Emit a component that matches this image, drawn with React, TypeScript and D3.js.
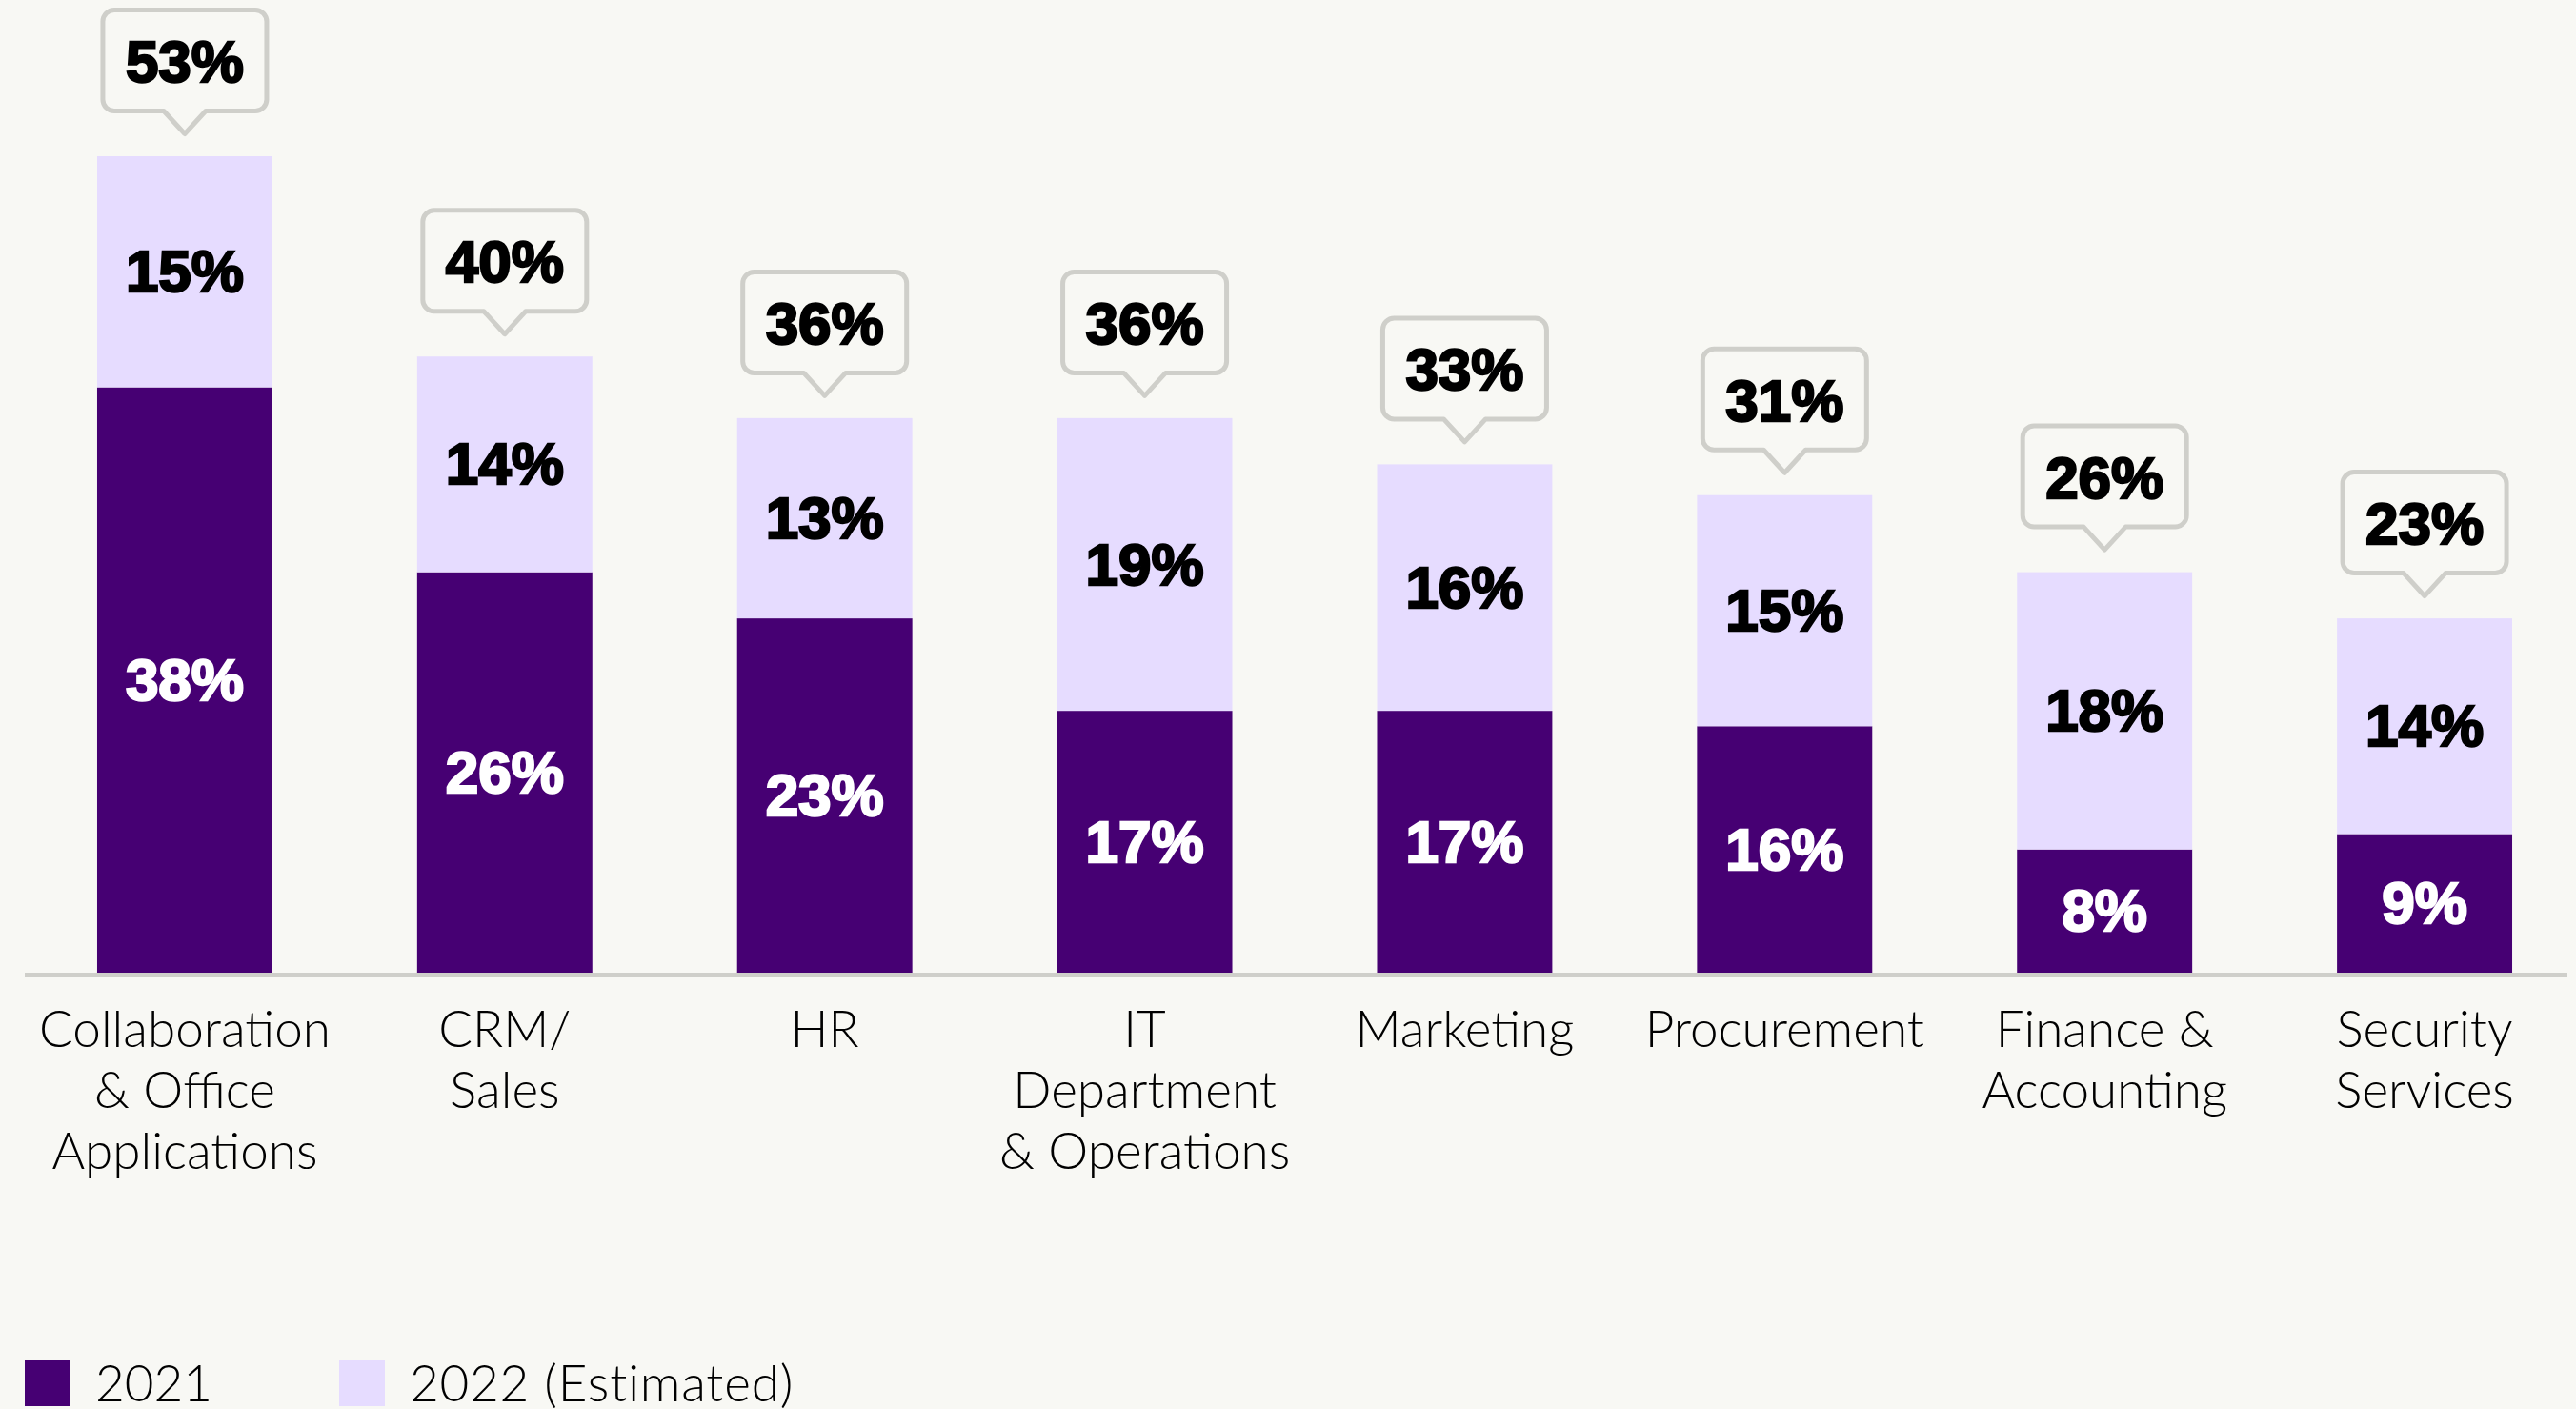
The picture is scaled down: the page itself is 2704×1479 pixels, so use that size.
import React, { useEffect } from "react";
import * as d3 from "d3";

const categories = [
  "Collaboration & Office Applications",
  "CRM/ Sales",
  "HR",
  "IT Department & Operations",
  "Marketing",
  "Procurement",
  "Finance & Accounting",
  "Security Services",
];
const categoryLines = [
  ["Collaboration", "& Office", "Applications"],
  ["CRM/", "Sales"],
  ["HR"],
  ["IT", "Department", "& Operations"],
  ["Marketing"],
  ["Procurement"],
  ["Finance &", "Accounting"],
  ["Security", "Services"],
];
const values2021 = [38, 26, 23, 17, 17, 16, 8, 9];
const values2022Added = [15, 14, 13, 19, 16, 15, 18, 14];
const totals2022 = [53, 40, 36, 36, 33, 31, 26, 23];
const seriesNames = ["2021", "2022 (Estimated)"];

const W = 2704;
const H = 1479;
const BG = "#f8f8f4";
const DARK = "#460073";
const LIGHT = "#e6dcff";
const GRAY = "#cfcfca";
const NUM_FONT = "'Liberation Sans', Arial, sans-serif";
const LABEL_FONT = "Lato, 'Noto Sans', sans-serif";

export default function App() {
  useEffect(() => {
    document.body.style.margin = "0";
    document.body.style.background = BG;
  }, []);

  const x = d3
    .scaleBand<string>()
    .domain(categories)
    .range([26, 2713])
    .paddingInner(0.4524)
    .paddingOuter(0.2262);
  const y = d3.scaleLinear().domain([0, 53]).range([1021, 164]);

  const stackData = categories.map((c, i) => ({
    cat: c,
    a: values2021[i],
    b: values2022Added[i],
  }));
  const stack = d3.stack<any>().keys(["a", "b"])(stackData);
  const colors = [DARK, LIGHT];
  const textColors = ["#ffffff", "#000000"];
  const bw = x.bandwidth();

  const boxW = 172;
  const boxH = 106;
  const r = 12;
  const ptrHalf = 22;
  const ptrH = 24;

  const calloutPath = (cx: number, top: number) => {
    const bb = top - 47.5;
    const bt = bb - boxH;
    const l = cx - boxW / 2;
    const rr = cx + boxW / 2;
    const p = d3.path();
    p.moveTo(l + r, bt);
    p.lineTo(rr - r, bt);
    p.arcTo(rr, bt, rr, bt + r, r);
    p.lineTo(rr, bb - r);
    p.arcTo(rr, bb, rr - r, bb, r);
    p.lineTo(cx + ptrHalf, bb);
    p.lineTo(cx, bb + ptrH);
    p.lineTo(cx - ptrHalf, bb);
    p.lineTo(l + r, bb);
    p.arcTo(l, bb, l, bb - r, r);
    p.lineTo(l, bt + r);
    p.arcTo(l, bt, l + r, bt, r);
    p.closePath();
    return p.toString();
  };

  return (
    <svg
      width={W}
      height={H}
      viewBox={`0 0 ${W} ${H}`}
      style={{ position: "absolute", left: 0, top: 0, display: "block" }}
    >
      <rect x={0} y={0} width={W} height={H} fill={BG} />

      {stack.map((layer, li) => (
        <g key={li}>
          {layer.map((d: any, i: number) => {
            const cat = categories[i];
            const x0 = x(cat)!;
            const yTop = y(d[1]);
            const yBot = y(d[0]);
            const mid = (yTop + yBot) / 2;
            return (
              <g key={cat}>
                <rect x={x0} y={yTop} width={bw} height={yBot - yTop} fill={colors[li]} />
                <text
                  x={x0 + bw / 2}
                  y={mid + 21}
                  textAnchor="middle"
                  fontFamily={NUM_FONT}
                  fontWeight={700}
                  fontSize={62}
                  fill={textColors[li]}
                  stroke={textColors[li]}
                  strokeWidth={2.4}
                  paintOrder="stroke"
                >
                  {`${d[1] - d[0]}%`}
                </text>
              </g>
            );
          })}
        </g>
      ))}

      <line x1={26} x2={2695} y1={1023.5} y2={1023.5} stroke={GRAY} strokeWidth={5} />

      {categories.map((c, i) => {
        const cx = x(c)! + bw / 2;
        const top = y(totals2022[i]);
        return (
          <g key={`call-${c}`}>
            <path d={calloutPath(cx, top)} fill={BG} stroke={GRAY} strokeWidth={5} strokeLinejoin="round" />
            <text
              x={cx}
              y={top - 47.5 - boxH / 2 + 22.5}
              textAnchor="middle"
              fontFamily={NUM_FONT}
              fontWeight={700}
              fontSize={62}
              fill="#000"
              stroke="#000"
              strokeWidth={2.4}
              paintOrder="stroke"
            >
              {`${totals2022[i]}%`}
            </text>
          </g>
        );
      })}

      {categories.map((c, i) => {
        const cx = x(c)! + bw / 2;
        return (
          <text
            key={`lab-${c}`}
            textAnchor="middle"
            fontFamily={LABEL_FONT}
            fontWeight={300}
            fontSize={53}
            fill="#000"
          >
            {categoryLines[i].map((ln, k) => (
              <tspan key={k} x={cx} y={1099 + k * 64}>
                {ln}
              </tspan>
            ))}
          </text>
        );
      })}

      <g>
        <rect x={26} y={1428} width={48} height={48} fill={DARK} />
        <text x={100} y={1471} fontFamily={LABEL_FONT} fontWeight={300} fontSize={53} fill="#000">
          {seriesNames[0]}
        </text>
        <rect x={356} y={1428} width={48} height={48} fill={LIGHT} />
        <text x={430} y={1471} fontFamily={LABEL_FONT} fontWeight={300} fontSize={53} letterSpacing={0.8} fill="#000">
          {seriesNames[1]}
        </text>
      </g>
    </svg>
  );
}
